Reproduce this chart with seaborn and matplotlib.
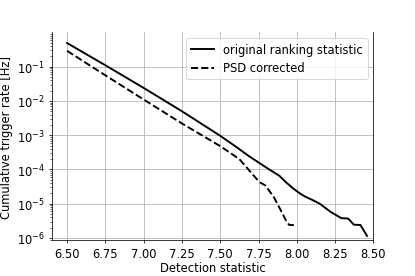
import numpy as np
import pandas as pd
import matplotlib
matplotlib.use("Agg")
import matplotlib.pyplot as plt
import seaborn as sns

# values (rate in Hz)
stat_orig = [6.50, 6.75, 7.00, 7.25, 7.50, 7.60, 7.69, 7.755, 7.82, 7.885, 7.93,
             7.98, 8.02, 8.056, 8.10, 8.15, 8.22, 8.29, 8.335, 8.372, 8.415, 8.458]
rate_orig = [4.9e-1, 1.1e-1, 2.4e-2, 5.0e-3, 9.6e-4, 4.7e-4, 2.4e-4, 1.55e-4, 1.0e-4,
             6.6e-5, 4.2e-5, 2.7e-5, 2.0e-5, 1.6e-5, 1.3e-5, 1.0e-5, 5.8e-6, 3.8e-6,
             3.7e-6, 2.45e-6, 2.4e-6, 1.15e-6]

stat_psd = [6.50, 6.75, 7.00, 7.25, 7.50, 7.625, 7.69, 7.755, 7.795, 7.85, 7.89,
            7.93, 7.95, 7.98]
rate_psd = [2.9e-1, 5.6e-2, 1.1e-2, 2.2e-3, 4.8e-4, 2.0e-4, 9.3e-5, 4.3e-5, 3.4e-5,
            1.55e-5, 7.1e-6, 3.2e-6, 2.4e-6, 2.4e-6]

labels = ["original ranking statistic", "PSD corrected"]

df_orig = pd.DataFrame({"stat": stat_orig, "rate": rate_orig})
df_psd = pd.DataFrame({"stat": stat_psd, "rate": rate_psd})

plt.rcParams["font.family"] = ["DejaVu Sans"]
plt.rcParams["font.size"] = 12

fig, ax = plt.subplots(figsize=(6, 4), dpi=69.2)
fig.subplots_adjust(left=0.1246, right=0.8995, top=0.88, bottom=0.13)

sns.lineplot(data=df_orig, x="stat", y="rate", ax=ax, color="black",
             linewidth=2, label=labels[0])
sns.lineplot(data=df_psd, x="stat", y="rate", ax=ax, color="black",
             linewidth=2, linestyle="--", label=labels[1])

ax.set_yscale("log")
ax.set_xlim(6.4, 8.5)
ax.set_ylim(8.75e-7, 1)
ax.set_xticks([6.5, 6.75, 7.0, 7.25, 7.5, 7.75, 8.0, 8.25, 8.5])
ax.set_xticklabels(["6.50", "6.75", "7.00", "7.25", "7.50", "7.75", "8.00", "8.25", "8.50"])
ax.set_yticks([1e-6, 1e-5, 1e-4, 1e-3, 1e-2, 1e-1])
ax.grid(True, which="major", color="#b0b0b0", linewidth=0.8)
ax.spines["top"].set_visible(False)
ax.tick_params(labelsize=12)

ax.set_xlabel("Detection statistic", fontsize=12, labelpad=2)
ax.set_ylabel("Cumulative trigger rate [Hz]", fontsize=12)
ax.legend(loc="upper right", fontsize=12)

fig.savefig("out.png", dpi=69.2)
